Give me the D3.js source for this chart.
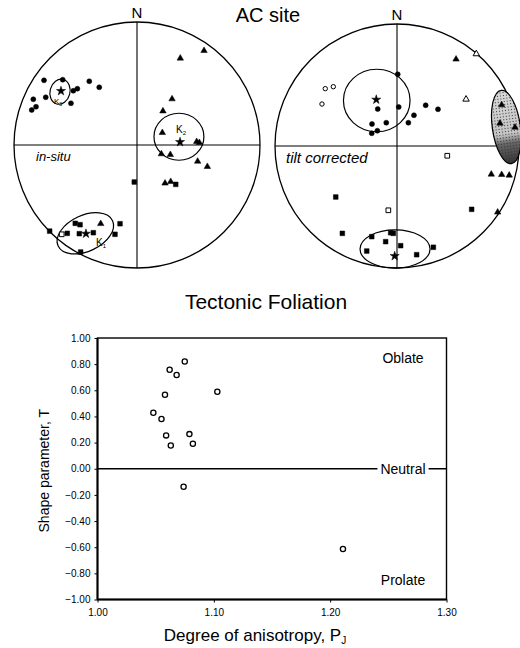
<!DOCTYPE html>
<html><head><meta charset="utf-8">
<script src="https://cdn.jsdelivr.net/npm/d3@7"></script>
<style>body{margin:0;background:#fff} svg{display:block;font-family:"Liberation Sans",Arial,sans-serif}</style>
</head><body>
<svg id="c" width="520" height="648"></svg>
<script>
// ---- Stereonet data: equal-area projected positions on a unit net [East, North] ----
// In-situ
const insituK1 = [[-0.71,-0.70],[-0.567,-0.718],[-0.502,-0.637],[-0.463,-0.648],[-0.469,-0.721],[-0.355,-0.713],[-0.179,-0.726],[-0.138,-0.640],[-0.458,-0.870],[-0.022,-0.301],[0.315,-0.320]];
const insituK1Open = [[-0.612,-0.726]];
const insituK2 = [[0.545,0.767],[0.352,0.705],[0.285,0.374],[0.211,0.276],[0.206,0.100],[0.485,0.027],[0.507,0.019],[0.198,-0.073],[0.271,-0.079],[0.493,-0.133],[0.572,-0.176],[0.228,-0.311],[0.274,-0.298],[-0.295,-0.640]];
const insituK2Open = [];
const insituK3 = [[-0.756,0.526],[-0.604,0.531],[-0.388,0.518],[-0.307,0.469],[-0.485,0.458],[-0.518,0.441],[-0.742,0.388],[-0.843,0.372],[-0.821,0.311],[-0.856,0.285],[-0.537,0.339]];
const insituK3Open = [];
const insituMeans = [["K1",-0.415,-0.721],["K2",0.350,0.024],["K3",-0.618,0.439]];
// confidence ellipses: [axis, E, N, semi-axis a, semi-axis b, rotation deg, shaded]
const insituEllipses = [["K1",-0.420,-0.718,0.244,0.146,-25,0],["K2",0.341,0.067,0.203,0.191,0,0],["K3",-0.626,0.433,0.081,0.103,15,0]];
// Tilt corrected
const tiltK1 = [[-0.502,-0.418],[-0.448,-0.716],[-0.207,-0.743],[-0.052,-0.711],[-0.030,-0.716],[-0.093,-0.784],[0.030,-0.817],[-0.248,-0.861],[0.161,-0.891],[0.298,-0.830],[0.612,-0.519]];
const tiltK1Open = [[-0.071,-0.527],[0.412,-0.080]];
const tiltK2 = [[0.484,0.711],[0.858,0.336],[0.844,0.186],[0.967,0.153],[0.773,-0.232],[0.858,-0.235],[0.920,-0.240],[0.825,-0.543]];
const tiltK2Open = [[0.65,0.755],[0.566,0.383]];
const tiltK3 = [[0.006,0.588],[-0.158,0.303],[0.014,0.320],[0.235,0.334],[0.336,0.301],[0.139,0.252],[0.093,0.191],[-0.088,0.191],[-0.205,0.180],[-0.161,0.125],[-0.207,0.104]];
const tiltK3Open = [[-0.588,0.470],[-0.522,0.486],[-0.615,0.344]];
const tiltMeans = [["K1",-0.019,-0.902],["K3",-0.170,0.380]];
const tiltEllipses = [["K1",-0.016,-0.844,0.287,0.157,0,0],["K2",0.896,0.156,0.115,0.303,-8,1],["K3",-0.166,0.373,0.273,0.256,0,0]];

// ---- Tectonic foliation: degree of anisotropy Pj vs shape parameter T ----
const PJ = [1.075,1.062,1.068,1.058,1.103,1.048,1.055,1.059,1.079,1.063,1.082,1.074,1.211];
const T  = [0.820,0.757,0.717,0.566,0.589,0.428,0.380,0.255,0.265,0.178,0.191,-0.138,-0.614];
const xTicks = [1.00,1.10,1.20,1.30];
const yTicks = [1.00,0.80,0.60,0.40,0.20,0.00,-0.20,-0.40,-0.60,-0.80,-1.00];
const zoneLabels = [["Oblate",0.85],["Neutral",0],["Prolate",-0.85]];

const svg = d3.select("#c");
const defs = svg.append("defs");
const pat = defs.append("pattern").attr("id","stip").attr("width",3).attr("height",3).attr("patternUnits","userSpaceOnUse");
pat.append("rect").attr("width",3).attr("height",3).attr("fill","none");
pat.append("rect").attr("x",1).attr("y",1).attr("width",1).attr("height",1).attr("fill","#333");
const grad = defs.append("linearGradient").attr("id","shade").attr("x1",0).attr("y1",0).attr("x2",0).attr("y2",1);
[[0,"#d8d8d8"],[0.6,"#c4c4c4"],[0.72,"#666"],[1,"#333"]].forEach(s=>grad.append("stop").attr("offset",s[0]).attr("stop-color",s[1]));

// Titles
svg.append("text").attr("x",268).attr("y",21.5).attr("text-anchor","middle").attr("font-size",20).text("AC site");

function drawNet(cx, cy, R, d, label, labelOpts) {
  const x = d3.scaleLinear().domain([-1,1]).range([cx-R,cx+R]);
  const y = d3.scaleLinear().domain([-1,1]).range([cy+R,cy-R]);
  const g = svg.append("g");
  g.append("circle").attr("cx",cx).attr("cy",cy).attr("r",R).attr("fill","none").attr("stroke","#000").attr("stroke-width",1.3);
  g.append("line").attr("x1",x(0)).attr("x2",x(0)).attr("y1",y(1)).attr("y2",y(-1)).attr("stroke","#000").attr("stroke-width",1.1);
  g.append("line").attr("x1",x(-1)).attr("x2",x(1)).attr("y1",y(0)).attr("y2",y(0)).attr("stroke","#000").attr("stroke-width",1.1);
  g.append("text").attr("x",x(0)).attr("y",y(1)-4).attr("text-anchor","middle").attr("font-size",15).text("N");
  g.append("text").attr("x",labelOpts.x).attr("y",labelOpts.y).attr("font-size",labelOpts.size).attr("font-style","italic").text(label);
  d.ellipses.forEach(e=>{
    const tr = `translate(${x(e[1])},${y(e[2])}) rotate(${e[5]})`;
    if (e[6]) {
      g.append("ellipse").attr("transform",tr).attr("rx",e[3]*R).attr("ry",e[4]*R).attr("fill","url(#shade)").attr("stroke","none");
      g.append("ellipse").attr("transform",tr).attr("rx",e[3]*R).attr("ry",e[4]*R).attr("fill","url(#stip)").attr("stroke","#000").attr("stroke-width",1.2);
    } else {
      g.append("ellipse").attr("transform",tr).attr("rx",e[3]*R).attr("ry",e[4]*R).attr("fill","none").attr("stroke","#000").attr("stroke-width",1.2);
    }
  });
  const sq = d3.symbol().type(d3.symbolSquare).size(22)();
  const tri = d3.symbol().type(d3.symbolTriangle).size(18)();
  const star = d3.symbol().type(d3.symbolStar).size(26)();
  function pts(arr, path, open) {
    g.selectAll(null).data(arr).join("path").attr("d",path)
      .attr("transform",p=>`translate(${x(p[0])},${y(p[1])})`)
      .attr("fill",open?"#fff":"#000").attr("stroke","#000").attr("stroke-width",open?1:0.5);
  }
  function dots(arr, open) {
    g.selectAll(null).data(arr).join("circle").attr("cx",p=>x(p[0])).attr("cy",p=>y(p[1])).attr("r",open?2.2:2.5)
      .attr("fill",open?"#fff":"#000").attr("stroke","#000").attr("stroke-width",open?1:0.5);
  }
  pts(d.k1, sq, false); pts(d.k1o, sq, true);
  pts(d.k2, tri, false); pts(d.k2o, tri, true);
  dots(d.k3, false); dots(d.k3o, true);
  pts(d.means.map(m=>[m[1],m[2]]), star, false);
  return {x, y, g};
}

const L = drawNet(137,145,123,{k1:insituK1,k1o:insituK1Open,k2:insituK2,k2o:insituK2Open,k3:insituK3,k3o:insituK3Open,means:insituMeans,ellipses:insituEllipses},"in-situ",{x:36,y:161,size:13});
const Rn = drawNet(397,146,122,{k1:tiltK1,k1o:tiltK1Open,k2:tiltK2,k2o:tiltK2Open,k3:tiltK3,k3o:tiltK3Open,means:tiltMeans,ellipses:tiltEllipses},"tilt corrected",{x:286,y:163,size:15});

// K labels on the in-situ net (offset from mean positions)
const kLabelOffsets = {K1:[10,12],K2:[-4,-9],K3:[-7,13]};
insituMeans.forEach(m=>{
  const o = kLabelOffsets[m[0]];
  const t = L.g.append("text").attr("x",L.x(m[1])+o[0]).attr("y",L.y(m[2])+o[1]).attr("font-size",m[0]==="K3"?8:10).attr("fill","#000");
  t.append("tspan").text("K");
  t.append("tspan").attr("font-size",m[0]==="K3"?5:6).attr("dy",2).text(m[0].slice(1));
});

// ---- Scatter plot ----
const m = {l:97.5, r:446.5, t:338, b:599.5};
const xs = d3.scaleLinear().domain([1.0,1.3]).range([m.l,m.r]);
const ys = d3.scaleLinear().domain([-1,1]).range([m.b,m.t]);
svg.append("text").attr("x",266).attr("y",309).attr("text-anchor","middle").attr("font-size",21).text("Tectonic Foliation");
const pg = svg.append("g");
pg.append("rect").attr("x",m.l).attr("y",m.t).attr("width",m.r-m.l).attr("height",m.b-m.t).attr("fill","none").attr("stroke","#000").attr("stroke-width",1.4);
pg.append("line").attr("x1",m.l).attr("x2",m.l).attr("y1",m.t).attr("y2",m.b).attr("stroke","#000").attr("stroke-width",2);
pg.append("line").attr("x1",m.l).attr("x2",m.r).attr("y1",m.b).attr("y2",m.b).attr("stroke","#000").attr("stroke-width",2);
// zero (neutral) line
pg.append("line").attr("x1",xs(1.0)).attr("x2",xs(1.3)).attr("y1",ys(0)).attr("y2",ys(0)).attr("stroke","#000").attr("stroke-width",1.3);
const yAxis = d3.axisLeft(ys).tickValues(yTicks).tickFormat(d3.format(".2f")).tickSize(3).tickPadding(4);
const xAxis = d3.axisBottom(xs).tickValues(xTicks).tickFormat(d3.format(".2f")).tickSize(3).tickPadding(6);
const ya = pg.append("g").attr("transform",`translate(${m.l},0)`).call(yAxis);
const xa = pg.append("g").attr("transform",`translate(0,${m.b})`).call(xAxis);
[ya,xa].forEach(a=>{a.select(".domain").remove();a.selectAll("text").attr("font-size",10).attr("font-family","'Liberation Sans',Arial,sans-serif").attr("fill","#000");a.selectAll("line").attr("stroke","#000");});
// zone labels
zoneLabels.forEach(z=>{
  const t = pg.append("text").attr("x",403).attr("y",ys(z[1])+5).attr("text-anchor","middle").attr("font-size",14).text(z[0]);
  if (z[0]==="Neutral") {
    const bb = t.node().getBBox();
    pg.append("rect").attr("x",bb.x-3).attr("y",ys(0)-2).attr("width",bb.width+6).attr("height",4).attr("fill","#fff");
    t.raise();
  }
});
// points
pg.selectAll(null).data(PJ.map((p,i)=>[p,T[i]])).join("circle")
  .attr("cx",d=>xs(d[0])).attr("cy",d=>ys(d[1])).attr("r",2.6)
  .attr("fill","#fff").attr("stroke","#000").attr("stroke-width",1.3);
// axis titles
const xt = svg.append("text").attr("x",255).attr("y",641).attr("text-anchor","middle").attr("font-size",17);
xt.append("tspan").text("Degree of anisotropy, P");
xt.append("tspan").attr("font-size",10).attr("dy",3).text("J");
svg.append("text").attr("transform",`translate(49,${(m.t+m.b)/2+2}) rotate(-90)`).attr("text-anchor","middle").attr("font-size",14).text("Shape parameter, T");
</script>
</body></html>
